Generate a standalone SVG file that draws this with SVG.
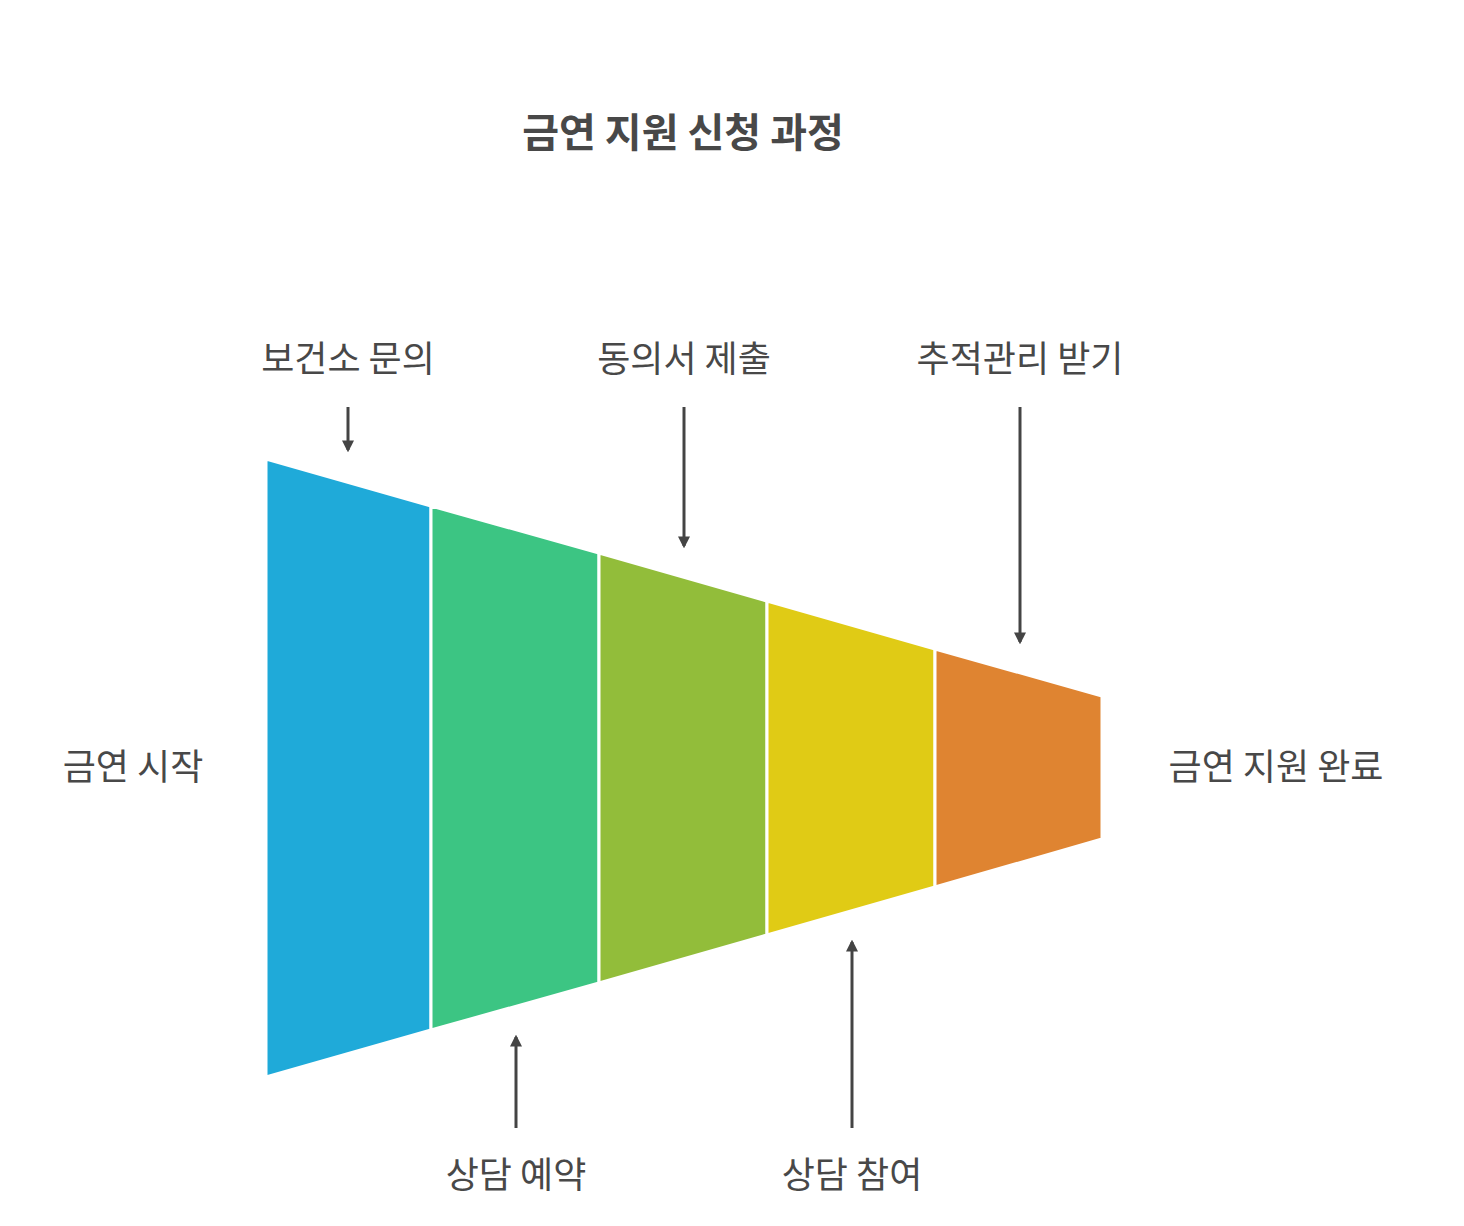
<svg xmlns="http://www.w3.org/2000/svg" width="1464" height="1226" viewBox="0 0 1464 1226">
<style>
text{font-family:"Noto Sans CJK KR","Noto Sans",sans-serif;fill:#484848;text-anchor:middle}
.l{font-size:36px}
.t{font-size:40px;font-weight:bold}
.c{stroke:#444;stroke-width:3;fill:none;marker-end:url(#ah)}
.s{stroke:#fff;stroke-width:3}
</style>
<defs><marker id="ah" viewBox="0 0 10 10" refX="8" refY="5" markerWidth="4" markerHeight="4" orient="auto"><path d="M0,0L10,5L0,10z" fill="#444"/></marker></defs>
<rect width="1464" height="1226" fill="#fff"/>
<text class="t" x="683" y="147">금연 지원 신청 과정</text>
<g id="s1"><polygon points="266,459 431,506 431,1030 266,1077" fill="#1FAAD9" class="s"/></g>
<g id="s2"><polygon points="431,506 599,553 599,983 431,1030" fill="#3CC583" class="s"/></g>
<g id="s3"><polygon points="599,553 767,601 767,935 599,983" fill="#92BD3A" class="s"/></g>
<g id="s4"><polygon points="767,601 935,649 935,887 767,935" fill="#E0CB15" class="s"/></g>
<g id="s5"><polygon points="935,649 1102,696 1102,839 935,887" fill="#DF8431" class="s"/></g>
<g id="connectors">
<line class="c" x1="348" y1="407" x2="348" y2="450"/>
<line class="c" x1="684" y1="407" x2="684" y2="546"/>
<line class="c" x1="1020" y1="407" x2="1020" y2="642"/>
<line class="c" x1="516" y1="1128" x2="516" y2="1037"/>
<line class="c" x1="852" y1="1128" x2="852" y2="942"/>
</g>
<g id="labels">
<text class="l" x="348" y="372">보건소 문의</text>
<text class="l" x="684" y="372">동의서 제출</text>
<text class="l" x="1020" y="372">추적관리 받기</text>
<text class="l" x="133" y="780">금연 시작</text>
<text class="l" x="1276" y="780">금연 지원 완료</text>
<text class="l" x="516" y="1188">상담 예약</text>
<text class="l" x="852" y="1188">상담 참여</text>
</g>
</svg>
